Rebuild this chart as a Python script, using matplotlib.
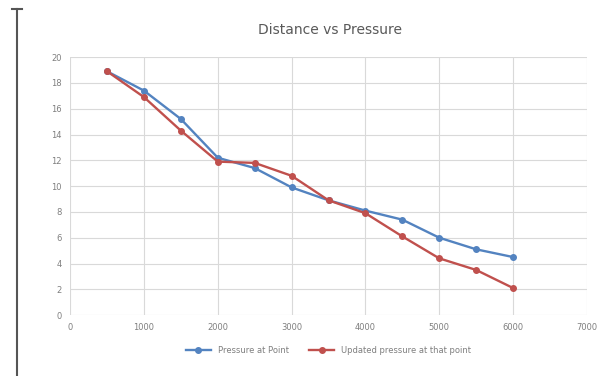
import numpy as np
import matplotlib.pyplot as plt
from matplotlib.lines import Line2D

# Data
distance = [500, 1000, 1500, 2000, 2500, 3000, 3500, 4000, 4500, 5000, 5500, 6000]
pressure = [18.9, 17.4, 15.2, 12.2, 11.4, 9.9, 8.9, 8.1, 7.4, 6.0, 5.1, 4.5]
updated = [18.9, 16.9, 14.3, 11.9, 11.8, 10.8, 8.9, 7.9, 6.1, 4.4, 3.5, 2.1]
x_ticks = [0, 1000, 2000, 3000, 4000, 5000, 6000, 7000]
y_ticks = [0, 2, 4, 6, 8, 10, 12, 14, 16, 18, 20]

blue = '#5383c0'
red = '#c0504d'
txt = '#7f7f7f'

fig = plt.figure(figsize=(6.05, 3.76), dpi=100)
ax = fig.add_axes([0.116, 0.162, 0.854, 0.686])

ax.plot(distance, pressure, color=blue, marker='o', markersize=4, linewidth=1.7,
        label='Pressure at Point')
ax.plot(distance, updated, color=red, marker='o', markersize=4, linewidth=1.7,
        label='Updated pressure at that point')

ax.set_xlim(0, 7000)
ax.set_ylim(0, 20)
ax.set_xticks(x_ticks)
ax.set_yticks(y_ticks)
ax.tick_params(length=0, labelsize=6, colors=txt, pad=6)
ax.grid(True, color='#d9d9d9', linewidth=0.8)
ax.set_axisbelow(True)
for s in ax.spines.values():
    s.set_visible(False)

fig.text(0.545, 0.92, 'Distance vs Pressure', ha='center', va='center',
         fontsize=10, color='#595959')

ax.legend(loc='upper center', bbox_to_anchor=(0.5, -0.09), ncol=2, frameon=False,
          fontsize=6, labelcolor=txt, handlelength=3, columnspacing=2.5)

# dark bar at the left edge of the picture
fig.add_artist(Line2D([17 / 605, 17 / 605], [0, 1 - 9 / 376], color='#555555', linewidth=1.5))
fig.add_artist(Line2D([12 / 605, 22 / 605], [1 - 9 / 376, 1 - 9 / 376], color='#555555', linewidth=1.5))

fig.savefig('out.png', dpi=100)
